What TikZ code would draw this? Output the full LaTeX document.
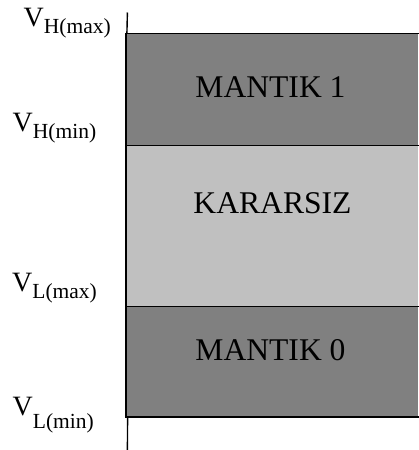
\documentclass[tikz,border=0pt]{standalone}
\usepackage{fontspec}
\setmainfont{Liberation Serif}
\definecolor{logicgray}{HTML}{808080}
\definecolor{undefgray}{HTML}{C0C0C0}
\newcommand{\vlevel}[3]{{\fontsize{28}{28}\selectfont V}\raisebox{-#3}{\fontsize{21.5}{21.5}\selectfont #1(#2)}}
\tikzset{
  band/.style={draw=none},
  edge/.style={line width=1.3pt, line cap=rect},
  axis/.style={line width=1.4pt},
  zone/.style={anchor=base, inner sep=0pt, font=\fontsize{31.6}{31.6}\selectfont},
  level/.style={anchor=base west, inner sep=0pt},
}
\begin{document}
\begin{tikzpicture}[x=1pt,y=-1pt]
\useasboundingbox (0,0) rectangle (418,450);
% voltage bands
\fill[band, logicgray] (126,33.5) rectangle (418,145.7);
\fill[band, undefgray] (126,145.7) rectangle (418,306.7);
\fill[band, logicgray] (126,306.7) rectangle (418,417);
% band borders
\draw[edge] (418,33.5) -- (126,33.5) -- (126,417) -- (418,417);
\draw[edge] (126,145.7) -- (418,145.7);
\draw[edge] (126,306.7) -- (418,306.7);
% voltage axis
\coordinate (axtop) at (127.4,12.5);
\coordinate (axbot) at (127.4,450);
\draw[axis] (axtop) -- (126.9,33.5);
\draw[axis] (127.6,417) -- (axbot);
% zone names
\node[zone] (hi) at (270.5,97.3) {MANTIK 1};
\node[zone] (undef) at (272.5,213.3) {KARARSIZ};
\node[zone] (lo) at (270.5,360) {MANTIK 0};
% level labels
\node[level] (vhmax) at (23.5,26.7) {\vlevel{H}{max}{6.7pt}};
\node[level] (vhmin) at (12.5,131.7) {\vlevel{H}{min}{6.7pt}};
\node[level] (vlmax) at (12,291) {\vlevel{L}{max}{7pt}};
\node[level] (vlmin) at (12.5,415.5) {\vlevel{L}{min}{13pt}};
\end{tikzpicture}
\end{document}
